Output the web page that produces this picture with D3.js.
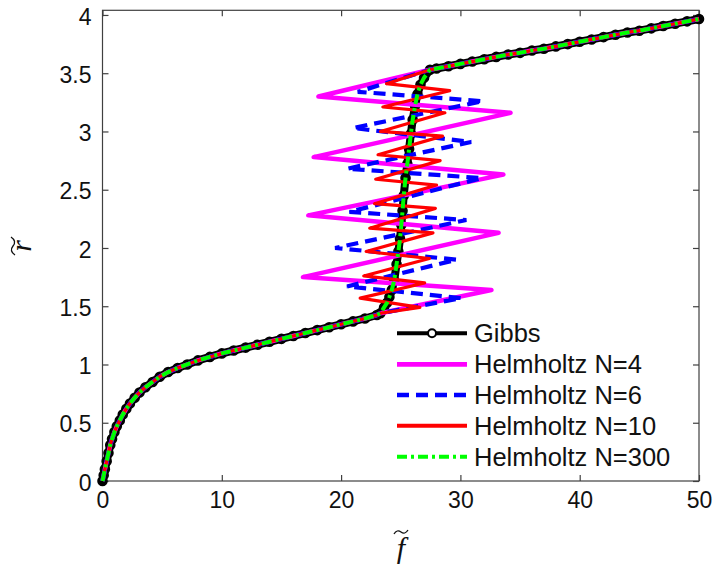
<!DOCTYPE html>
<html><head><meta charset="utf-8">
<script src="https://cdn.jsdelivr.net/npm/d3@7"></script>
<style>body{margin:0;background:#fff}svg{display:block}</style>
</head><body>
<svg id="c" width="716" height="568"></svg>
<script>
// ---- data ----
const xTicks = [0, 10, 20, 30, 40, 50];
const yTicks = [0, 0.5, 1, 1.5, 2, 2.5, 3, 3.5, 4];
const yTickLabels = ["0", "0.5", "1", "1.5", "2", "2.5", "3", "3.5", "4"];
const seriesNames = ["Gibbs", "Helmholtz N=4", "Helmholtz N=6", "Helmholtz N=10", "Helmholtz N=300"];

// shared lower branch
const lowF = [0, 0.1, 0.2, 0.35, 0.5, 0.65, 0.8, 1.0, 1.2, 1.45, 1.7, 2.0, 2.3, 2.7, 3.1, 3.6, 4.2, 4.8, 5.5, 6.3, 7.1, 8.0, 9.0, 10, 11, 12, 13, 14, 15, 16, 17, 18, 19, 20, 21, 22, 23.0, 23.3];
const lowR = [0, 0.05, 0.1, 0.17, 0.24, 0.31, 0.36, 0.42, 0.47, 0.52, 0.57, 0.62, 0.665, 0.715, 0.76, 0.805, 0.85, 0.895, 0.935, 0.97, 1.0, 1.035, 1.065, 1.095, 1.12, 1.145, 1.17, 1.195, 1.22, 1.245, 1.27, 1.295, 1.32, 1.345, 1.37, 1.395, 1.425, 1.44];
// shared upper branch
const upF = [27.45, 28, 29, 30, 31, 32, 33, 34, 35, 36, 37, 38, 39, 40, 41, 42, 43, 44, 45, 46, 47, 48, 49, 50];
const upR = [3.53, 3.54, 3.56, 3.58, 3.60, 3.62, 3.64, 3.66, 3.675, 3.695, 3.71, 3.73, 3.75, 3.77, 3.79, 3.81, 3.83, 3.85, 3.865, 3.885, 3.905, 3.925, 3.945, 3.965];
// Gibbs (Maxwell) vertical part
const gibbsMidF = [23.6, 23.85, 24.05, 24.25, 24.45, 24.65, 24.8, 24.94, 25.05, 25.15, 25.25, 25.4, 25.55, 25.7, 25.85, 26.0, 26.2, 26.4, 26.65, 26.95];
const gibbsMidR = [1.49, 1.53, 1.58, 1.64, 1.72, 1.86, 1.97, 2.08, 2.2, 2.32, 2.45, 2.6, 2.72, 2.85, 2.98, 3.1, 3.22, 3.32, 3.4, 3.46];
// Helmholtz N=4 loops
const n4MidF = [32.6, 16.8, 33.2, 17.25, 33.6, 17.7, 34.2, 18.1];
const n4MidR = [1.64, 1.75, 2.13, 2.28, 2.63, 2.78, 3.16, 3.30];
// Helmholtz N=6 loops
const n6MidF = [30.1, 20.5, 29.7, 19.5, 30.5, 20.7, 31.8, 20.5, 30.9, 21.0, 31.9, 21.4];
const n6MidR = [1.57, 1.67, 1.90, 2.0, 2.24, 2.31, 2.60, 2.68, 2.91, 3.03, 3.26, 3.34];
// Helmholtz N=10 loops
const n10MidF = [26.6, 21.6, 27.0, 21.9, 27.4, 22.1, 27.7, 22.4, 27.9, 22.8, 28.0, 22.9, 28.3, 23.1, 28.5, 23.3, 28.7, 23.5, 29.1, 23.8];
const n10MidR = [1.49, 1.57, 1.70, 1.76, 1.91, 1.97, 2.13, 2.17, 2.34, 2.38, 2.54, 2.59, 2.75, 2.80, 2.96, 3.00, 3.16, 3.21, 3.35, 3.41];
// Helmholtz N=300 follows the Gibbs curve
const n300MidF = gibbsMidF;
const n300MidR = gibbsMidR;

// ---- build ----
const zip = (fs, rs) => fs.map((f, i) => ({f, r: rs[i]}));
const build = (mf, mr) => zip(lowF, lowR).concat(zip(mf, mr), zip(upF, upR));
const gibbs = build(gibbsMidF, gibbsMidR);
const n4 = build(n4MidF, n4MidR);
const n6 = build(n6MidF, n6MidR);
const n10 = build(n10MidF, n10MidR);
const n300 = build(n300MidF, n300MidR);

const svg = d3.select("#c");
const x = d3.scaleLinear().domain([0, 50]).range([102.5, 699]);
const y = d3.scaleLinear().domain([0, 4.04]).range([481, 10.3]);
const axisColor = "#404040";
const tickFont = "'Liberation Sans', Arial, sans-serif";

// frame
svg.append("rect").attr("x", x(0)).attr("y", y(4.04)).attr("width", x(50) - x(0)).attr("height", y(0) - y(4.04))
  .attr("fill", "none").attr("stroke", axisColor).attr("stroke-width", 1.2);

const styleAxis = g => { g.select(".domain").remove(); g.selectAll(".tick line").attr("stroke", axisColor).attr("stroke-width", 1.2); };
svg.append("g").attr("transform", `translate(0,${y(0)})`)
  .call(d3.axisBottom(x).tickValues(xTicks).tickSizeInner(-6).tickSizeOuter(0).tickPadding(11).tickFormat(d3.format("d")))
  .call(styleAxis)
  .call(g => g.selectAll("text").attr("font-family", tickFont).attr("font-size", 23).attr("fill", "#111"));
svg.append("g").attr("transform", `translate(0,${y(4.04)})`)
  .call(d3.axisTop(x).tickValues(xTicks).tickSizeInner(-6).tickSizeOuter(0).tickFormat(""))
  .call(styleAxis);
svg.append("g").attr("transform", `translate(${x(0)},0)`)
  .call(d3.axisLeft(y).tickValues(yTicks).tickSizeInner(-6).tickSizeOuter(0).tickPadding(11).tickFormat((d, i) => yTickLabels[i]))
  .call(styleAxis)
  .call(g => g.selectAll("text").attr("font-family", tickFont).attr("font-size", 23).attr("fill", "#111").attr("dy", "0.4em"));
svg.append("g").attr("transform", `translate(${x(50)},0)`)
  .call(d3.axisRight(y).tickValues(yTicks).tickSizeInner(-6).tickSizeOuter(0).tickFormat(""))
  .call(styleAxis);

// curves
const line = d3.line().x(d => x(d.f)).y(d => y(d.r));
// dense open-circle markers of the Gibbs curve merge into a thick band
svg.append("path").datum(gibbs).attr("d", line).attr("fill", "none").attr("stroke", "#000").attr("stroke-width", 8).attr("stroke-linejoin", "round").attr("stroke-linecap", "round");
svg.append("g").selectAll("circle").data(gibbs).join("circle")
  .attr("cx", d => x(d.f)).attr("cy", d => y(d.r)).attr("r", 4.3)
  .attr("fill", "none").attr("stroke", "#000").attr("stroke-width", 2);
svg.append("path").datum(n4).attr("d", line).attr("fill", "none").attr("stroke", "#ff00ff").attr("stroke-width", 4.5).attr("stroke-linejoin", "round");
svg.append("path").datum(n6).attr("d", line).attr("fill", "none").attr("stroke", "#0000ff").attr("stroke-width", 4.2).attr("stroke-dasharray", "12,7");
svg.append("path").datum(n10).attr("d", line).attr("fill", "none").attr("stroke", "#ff0000").attr("stroke-width", 3.2).attr("stroke-linejoin", "round");
svg.append("path").datum(n300).attr("d", line).attr("fill", "none").attr("stroke", "#00ff00").attr("stroke-width", 4).attr("stroke-dasharray", "10,4,3,4");

// legend
const legY = [333.3, 364.3, 395, 425.7, 456.7];
const legStyles = [
  {c: "#000", w: 4, dash: null},
  {c: "#ff00ff", w: 4.8, dash: null},
  {c: "#0000ff", w: 4.5, dash: "12,7"},
  {c: "#ff0000", w: 4, dash: null},
  {c: "#00ff00", w: 4, dash: "10,4,3,4"}
];
const leg = svg.append("g");
seriesNames.forEach((name, i) => {
  const s = legStyles[i];
  leg.append("line").attr("x1", 397).attr("x2", 467).attr("y1", legY[i]).attr("y2", legY[i])
    .attr("stroke", s.c).attr("stroke-width", s.w).attr("stroke-dasharray", s.dash);
  if (i === 0) leg.append("circle").attr("cx", 432).attr("cy", legY[i]).attr("r", 4).attr("fill", "#fff").attr("stroke", "#000").attr("stroke-width", 2);
  leg.append("text").attr("x", 474).attr("y", legY[i]).attr("dy", "0.36em")
    .attr("font-family", tickFont).attr("font-size", 25.5).attr("fill", "#111").text(name);
});

// axis labels
const serif = "'Liberation Serif', 'Times New Roman', serif";
const xl = svg.append("g").attr("transform", "translate(401,558)");
xl.append("text").attr("text-anchor", "middle").attr("font-family", serif).attr("font-style", "italic").attr("font-size", 30).attr("fill", "#111").text("f");
xl.append("path").attr("d", "M-7,-24 Q-4,-29 0,-26 Q4,-23 7,-28").attr("fill", "none").attr("stroke", "#111").attr("stroke-width", 1.3);
const yl = svg.append("g").attr("transform", "translate(31,246) rotate(-90)");
yl.append("text").attr("text-anchor", "middle").attr("font-family", serif).attr("font-style", "italic").attr("font-size", 30).attr("fill", "#111").text("r");
yl.append("path").attr("d", "M-9,-16 Q-5,-22 0,-18 Q5,-14 9,-20").attr("fill", "none").attr("stroke", "#111").attr("stroke-width", 1.3);
</script>
</body></html>
